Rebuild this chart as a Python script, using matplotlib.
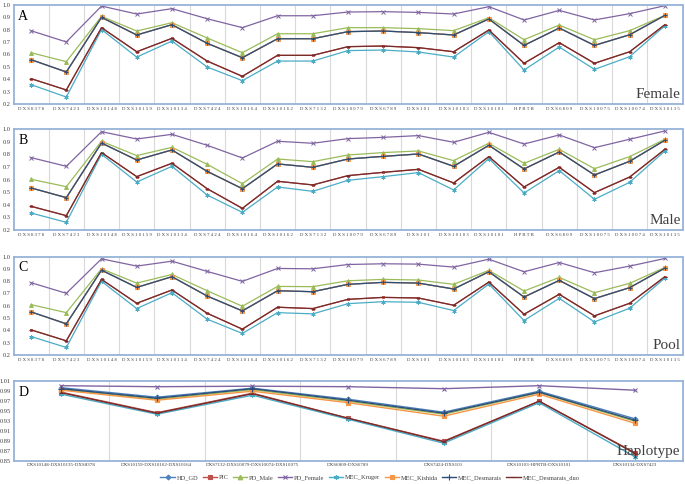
import matplotlib
matplotlib.use("Agg")
import matplotlib.pyplot as plt
import matplotlib.patheffects as pe
import numpy as np

plt.rcParams["font.family"] = ["Liberation Serif", "DejaVu Serif"]

LOCI = ["DXS8378", "DXS7423", "DXS10148", "DXS10159", "DXS10134", "DXS7424",
        "DXS10164", "DXS10162", "DXS7132", "DXS10079", "DXS6789", "DXS101",
        "DXS10103", "DXS10101", "HPRTB", "DXS6809", "DXS10075", "DXS10074",
        "DXS10135"]

HAPLO = ["DXS10148-DXS10135-DXS8378", "DXS10159-DXS10162-DXS10164",
         "DXS7132-DXS10079-DXS10074-DXS10075", "DXS6809-DXS6789",
         "DXS7424-DXS101", "DXS10103-HPRTB-DXS10101", "DXS10134-DXS7423"]

SERIES = ["HD_GD", "PIC", "PD_Male", "PD_Female", "MEC_Kruger",
          "MEC_Kishida", "MEC_Desmarais", "MEC_Desmarais_duo"]

# ---- A: Female
A_PD_FEMALE = [0.79, 0.70, 0.989, 0.925, 0.968, 0.887, 0.815, 0.911, 0.911, 0.941,
               0.944, 0.938, 0.925, 0.984, 0.877, 0.954, 0.877, 0.928, 0.992]
A_PD_MALE = [0.613, 0.541, 0.906, 0.788, 0.855, 0.732, 0.613, 0.766, 0.766, 0.815,
             0.815, 0.807, 0.791, 0.895, 0.718, 0.836, 0.718, 0.791, 0.914]
A_HD_GD = [0.557, 0.458, 0.898, 0.756, 0.839, 0.689, 0.573, 0.726, 0.726, 0.783,
           0.788, 0.775, 0.756, 0.885, 0.672, 0.812, 0.672, 0.758, 0.914]
A_PIC = [0.404, 0.313, 0.815, 0.621, 0.729, 0.546, 0.423, 0.592, 0.592, 0.662,
         0.667, 0.654, 0.621, 0.796, 0.528, 0.694, 0.528, 0.621, 0.839]
A_KRUGER = [0.356, 0.256, 0.80, 0.578, 0.707, 0.498, 0.388, 0.546, 0.546, 0.630,
            0.635, 0.619, 0.578, 0.783, 0.474, 0.659, 0.479, 0.581, 0.831]

# ---- B: Male
B_PD_FEMALE = [0.775, 0.706, 0.981, 0.923, 0.960, 0.873, 0.772, 0.905, 0.889, 0.926,
               0.936, 0.950, 0.897, 0.976, 0.883, 0.955, 0.854, 0.921, 0.987]
B_PD_MALE = [0.603, 0.544, 0.905, 0.791, 0.857, 0.722, 0.568, 0.764, 0.743, 0.796,
             0.815, 0.828, 0.751, 0.889, 0.730, 0.841, 0.687, 0.783, 0.921]
B_HD_GD = [0.534, 0.457, 0.891, 0.756, 0.836, 0.666, 0.528, 0.725, 0.698, 0.764,
           0.785, 0.804, 0.706, 0.873, 0.685, 0.820, 0.637, 0.746, 0.913]
B_PIC = [0.388, 0.314, 0.815, 0.624, 0.730, 0.528, 0.372, 0.587, 0.558, 0.632,
         0.658, 0.682, 0.574, 0.783, 0.542, 0.698, 0.497, 0.621, 0.841]
B_KRUGER = [0.335, 0.261, 0.802, 0.581, 0.706, 0.478, 0.340, 0.542, 0.507, 0.595,
            0.624, 0.656, 0.518, 0.767, 0.494, 0.672, 0.444, 0.579, 0.828]

# ---- C: Pool
C_PD_FEMALE = [0.787, 0.701, 0.981, 0.922, 0.962, 0.879, 0.798, 0.903, 0.900, 0.935,
               0.941, 0.938, 0.914, 0.978, 0.876, 0.951, 0.868, 0.922, 0.984]
C_PD_MALE = [0.609, 0.544, 0.900, 0.784, 0.854, 0.722, 0.596, 0.757, 0.755, 0.803,
             0.814, 0.809, 0.774, 0.887, 0.720, 0.830, 0.706, 0.782, 0.911]
C_HD_GD = [0.550, 0.453, 0.889, 0.749, 0.836, 0.679, 0.558, 0.722, 0.714, 0.774,
           0.790, 0.784, 0.736, 0.876, 0.671, 0.806, 0.658, 0.747, 0.906]
C_PIC = [0.404, 0.315, 0.814, 0.620, 0.728, 0.539, 0.410, 0.588, 0.577, 0.652,
         0.668, 0.663, 0.604, 0.792, 0.531, 0.693, 0.518, 0.620, 0.836]
C_KRUGER = [0.350, 0.261, 0.798, 0.577, 0.706, 0.491, 0.375, 0.544, 0.534, 0.617,
            0.633, 0.628, 0.561, 0.776, 0.480, 0.660, 0.469, 0.580, 0.825]

# ---- D: Haplotype
D_HD_GD = [0.996, 0.977, 0.995, 0.973, 0.947, 0.989, 0.934]
D_PIC = [0.987, 0.946, 0.985, 0.935, 0.889, 0.969, 0.866]
D_PD_MALE = [0.993, 0.973, 0.992, 0.969, 0.943, 0.986, 0.929]
D_PD_FEMALE = [1.000, 0.998, 0.999, 0.998, 0.994, 1.000, 0.991]
D_KRUGER = [0.983, 0.943, 0.981, 0.933, 0.885, 0.966, 0.858]
D_KISHIDA = [0.991, 0.971, 0.989, 0.966, 0.939, 0.983, 0.925]
D_DESMARAIS = [0.994, 0.975, 0.994, 0.971, 0.945, 0.987, 0.931]
D_DESMARAIS_DUO = [0.986, 0.945, 0.984, 0.935, 0.888, 0.969, 0.865]

COLORS = ["#4F81BD", "#C0504D", "#9BBB59", "#8064A2", "#4BACC6",
          "#F79646", "#2C4D75", "#772C2A"]
MARKERS = ["D", "s", "^", "x", (6, 2, 0), "s", "+", "_"]
MSIZES = [2.0, 2.0, 2.8, 2.8, 3.0, 2.8, 3.2, 2.2]
BORDER = "#95B3D7"


def style_axes(ax, n, yticks, ylabels, xlabels, xfs):
    ax.set_xlim(-0.5, n - 0.5)
    ax.set_ylim(yticks[0], yticks[-1])
    ax.set_yticks(yticks)
    ax.set_yticklabels(ylabels, fontsize=4.6, color="#404040")
    ax.set_xticks(range(n))
    ax.set_xticklabels(xlabels, fontsize=xfs, color="#404040")
    ax.tick_params(length=0, pad=2)
    for x in np.arange(0.5, n - 0.5, 1.0):
        ax.axvline(x, color="#D9D9D9", lw=0.8, zorder=0)
    for s in ax.spines.values():
        s.set_color(BORDER)
        s.set_linewidth(1.3)


def locus_panel(ax, letter, name, hd, pic, pdm, pdf, kru):
    series = [hd, pic, pdm, pdf, kru, hd, hd, pic]
    x = np.arange(len(LOCI))
    for i, vals in enumerate(series):
        ax.plot(x, vals, color=COLORS[i], lw=0.9, marker=MARKERS[i],
                ms=MSIZES[i], mew=0.7, label=SERIES[i])
    yt = np.round(np.arange(0.2, 1.001, 0.1), 1)
    style_axes(ax, len(LOCI), yt, ["%.1f" % v for v in yt],
               [" ".join(l) for l in LOCI], 3.4)
    ax.text(0.007, 0.95, letter, transform=ax.transAxes, fontsize=10,
            va="top", ha="left")
    ax.text(0.997, 0.03, name, transform=ax.transAxes, fontsize=11,
            va="bottom", ha="right", color="#404040")


fig = plt.figure(figsize=(6.85, 4.84), dpi=100)
L, W = 13.5 / 685, (682.5 - 13.5) / 685


def box(top, bottom):
    return [L, 1 - bottom / 484, W, (bottom - top) / 484]


axA = fig.add_axes(box(4.7, 104))
axB = fig.add_axes(box(129.3, 230))
axC = fig.add_axes(box(256.5, 355))
axD = fig.add_axes(box(380.7, 460.7))

locus_panel(axA, "A", "Female", A_HD_GD, A_PIC, A_PD_MALE, A_PD_FEMALE, A_KRUGER)
locus_panel(axB, "B", "Male", B_HD_GD, B_PIC, B_PD_MALE, B_PD_FEMALE, B_KRUGER)
locus_panel(axC, "C", "Pool", C_HD_GD, C_PIC, C_PD_MALE, C_PD_FEMALE, C_KRUGER)

d_series = [D_HD_GD, D_PIC, D_PD_MALE, D_PD_FEMALE, D_KRUGER,
            D_KISHIDA, D_DESMARAIS, D_DESMARAIS_DUO]
xd = np.arange(len(HAPLO))
glow = [pe.withStroke(linewidth=2.6, foreground="#E3EAF3")]
for i, vals in enumerate(d_series):
    ax_line, = axD.plot(xd, vals, color=COLORS[i], lw=1.0, marker=MARKERS[i],
                        ms=MSIZES[i] + 0.5, mew=0.8, label=SERIES[i])
    ax_line.set_path_effects(glow)
yt = np.round(np.arange(0.85, 1.0101, 0.02), 2)
style_axes(axD, len(HAPLO), yt, ["%.2f" % v for v in yt], HAPLO, 3.6)
axD.text(0.007, 0.93, "D", transform=axD.transAxes, fontsize=10,
         va="top", ha="left")
axD.text(0.997, 0.03, "Haplotype", transform=axD.transAxes, fontsize=11,
         va="bottom", ha="right", color="#404040")

handles, labels = axD.get_legend_handles_labels()
for h in handles:
    h.set_path_effects([])
fig.legend(handles, labels, loc="center", bbox_to_anchor=(0.54, 0.013),
           ncol=8, frameon=False, fontsize=4.6, handlelength=2.2,
           columnspacing=0.7, handletextpad=0.3, labelcolor="#404040")

fig.savefig("out.png", dpi=100)
